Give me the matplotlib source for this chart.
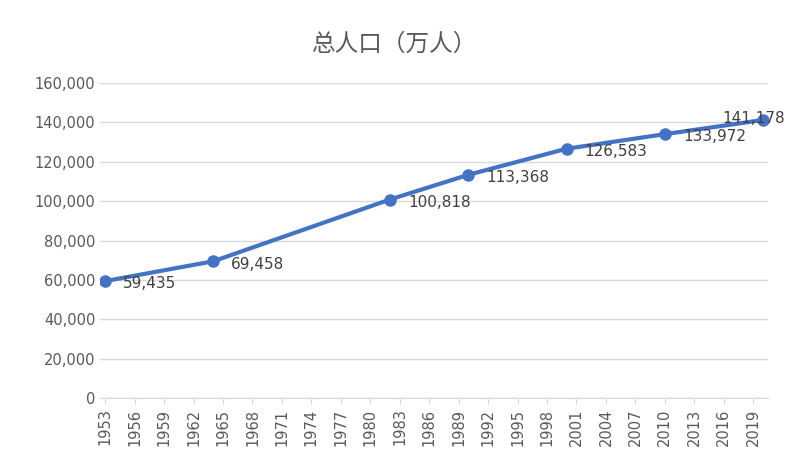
import matplotlib.pyplot as plt

plt.rcParams['font.family'] = ['Noto Sans CJK SC', 'DejaVu Sans']

years = [1953, 1964, 1982, 1990, 2000, 2010, 2020]
population = [59435, 69458, 100818, 113368, 126583, 133972, 141178]
tick_years = list(range(1953, 2020, 3))

fig = plt.figure(figsize=(7.9, 4.63), dpi=100)
ax = fig.add_axes([0.127, 0.14, 0.845, 0.681])

ax.plot(years, population, color="#4472C4", lw=3, marker="o", ms=8)
for x, y in zip(years, population):
    if x == years[-1]:
        # last label sits over the point like in Excel
        ax.annotate(f"{y:,}", (x, y), xytext=(-7, 1), textcoords="offset points",
                    ha="center", va="center", fontsize=11, color="#404040",
                    family="DejaVu Sans")
    else:
        ax.annotate(f"{y:,}", (x, y), xytext=(13, -2), textcoords="offset points",
                    ha="left", va="center", fontsize=11, color="#404040",
                    family="DejaVu Sans")

ax.set_xlim(1952.5, 2020.5)
ax.set_ylim(0, 160000)
ax.set_yticks(range(0, 160001, 20000))
ax.set_yticklabels([f"{v:,}" for v in range(0, 160001, 20000)], family="DejaVu Sans")
ax.set_xticks(tick_years)
ax.set_xticklabels([str(y) for y in tick_years], rotation=90, family="DejaVu Sans")
ax.tick_params(axis="both", colors="#595959", labelsize=10.5, length=0)
ax.tick_params(axis="x", length=4, color="#d9d9d9")
ax.grid(axis="y", color="#d9d9d9", lw=1)
ax.set_axisbelow(True)
for s in ["top", "right", "left"]:
    ax.spines[s].set_visible(False)
ax.spines["bottom"].set_color("#d9d9d9")

fig.suptitle("总人口（万人）", y=0.93, fontsize=17, color="#595959")

plt.savefig("out.png", dpi=100)
